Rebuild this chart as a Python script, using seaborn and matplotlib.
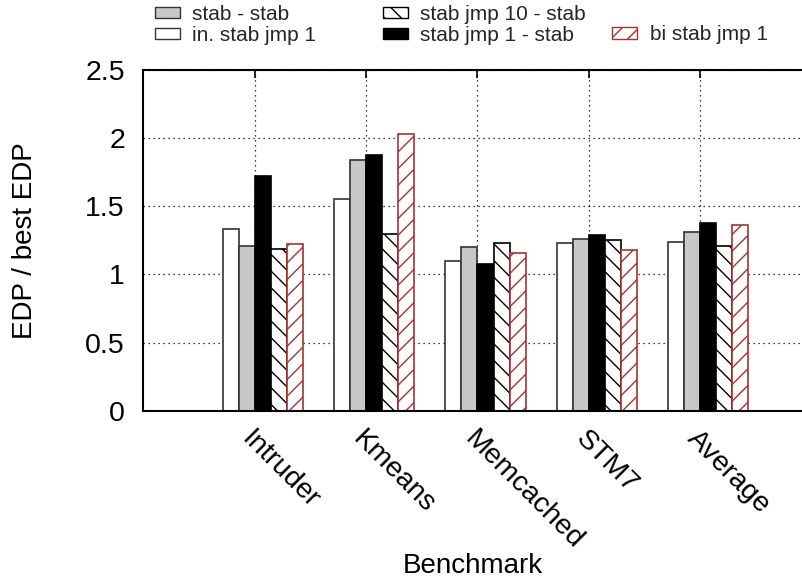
import numpy as np
import pandas as pd
import matplotlib
matplotlib.use("Agg")
import matplotlib.pyplot as plt
import seaborn as sns
from matplotlib.patches import Patch

benchmarks = ["Intruder", "Kmeans", "Memcached", "STM7", "Average"]
configs = ["in. stab jmp 1", "stab - stab", "stab jmp 1 - stab",
           "stab jmp 10 - stab", "bi stab jmp 1"]

in_stab_jmp1 = [1.33, 1.55, 1.10, 1.23, 1.24]
stab_stab = [1.21, 1.84, 1.20, 1.26, 1.31]
stab_jmp1_stab = [1.72, 1.88, 1.08, 1.29, 1.38]
stab_jmp10_stab = [1.19, 1.30, 1.23, 1.25, 1.21]
bi_stab_jmp1 = [1.22, 2.03, 1.16, 1.18, 1.36]

series = [in_stab_jmp1, stab_stab, stab_jmp1_stab, stab_jmp10_stab, bi_stab_jmp1]
df = pd.DataFrame({
    "Benchmark": benchmarks * len(configs),
    "Config": [c for c in configs for _ in benchmarks],
    "EDP": [v for s in series for v in s],
})

fills = ["#ffffff", "#c8c8c8", "#000000", "#ffffff", "#ffffff"]
edges = ["#333333", "#333333", "#000000", "#000000", "#a83232"]
hatches = [None, None, None, "\\\\", "//"]

sns.set_theme(style="white")
plt.rcParams["font.family"] = ["Liberation Sans", "DejaVu Sans"]
plt.rcParams["hatch.linewidth"] = 1.0

fig = plt.figure(figsize=(8.03, 5.82), dpi=100)
ax = fig.add_axes([0.178, 0.2943, 0.822, 0.5854])

sns.barplot(data=df, x="Benchmark", y="EDP", hue="Config", order=benchmarks,
            hue_order=configs, palette=dict(zip(configs, fills)), width=0.72,
            saturation=1, errorbar=None, legend=False, linewidth=1.2, ax=ax)

for cont, ec, h in zip(ax.containers, edges, hatches):
    for bar in cont:
        bar.set_edgecolor(ec)
        if h:
            bar.set_hatch(h)

# gnuplot puts the tick between 2nd and 3rd bar of each cluster
bar_w = 0.72 / len(configs)
ticks = np.arange(len(benchmarks)) - bar_w / 2
ax.set_xticks(ticks, benchmarks, rotation=-45, ha="left", va="top",
              rotation_mode="anchor")
ax.set_xlim(ticks[0] - 1.006, ticks[0] + 4.925)
ax.set_ylim(0, 2.5)
ax.set_yticks([0, 0.5, 1, 1.5, 2, 2.5], ["0", "0.5", "1", "1.5", "2", "2.5"])

ax.set_axisbelow(True)
ax.grid(True, color="black", linestyle=(0, (1, 3)), linewidth=0.9)
ax.tick_params(axis="both", direction="in", length=6, width=1.2,
               labelsize=20.5, colors="black", top=True)
ax.tick_params(axis="y", pad=13)
ax.tick_params(axis="x", pad=11)
for side in ["left", "top", "bottom"]:
    ax.spines[side].set_linewidth(1.5)
    ax.spines[side].set_color("black")
ax.spines["right"].set_visible(False)

ax.set_xlabel("Benchmark", fontsize=20, color="black", va="center")
ax.xaxis.set_label_coords(0.5, -0.456)
ax.set_ylabel("EDP / best EDP", fontsize=20, color="black", va="center")
ax.yaxis.set_label_coords(-0.178, 0.5)

handles = {c: Patch(facecolor=f, edgecolor=e, hatch=h, label=c)
           for c, f, e, h in zip(configs, fills, edges, hatches)}
cols = [(["stab - stab", "in. stab jmp 1"], 155, 5),
        (["stab jmp 10 - stab", "stab jmp 1 - stab"], 383, 5),
        (["bi stab jmp 1"], 612, 25.5)]
for names, x0, y0 in cols:
    fig.legend(handles=[handles[n] for n in names], loc="upper left",
               bbox_to_anchor=(x0 / 803, 1 - y0 / 582), frameon=False,
               fontsize=15, borderpad=0, borderaxespad=0, handlelength=1.2,
               handleheight=0.45, handletextpad=0.6, labelspacing=0.08)

fig.savefig("out.png", dpi=100)
